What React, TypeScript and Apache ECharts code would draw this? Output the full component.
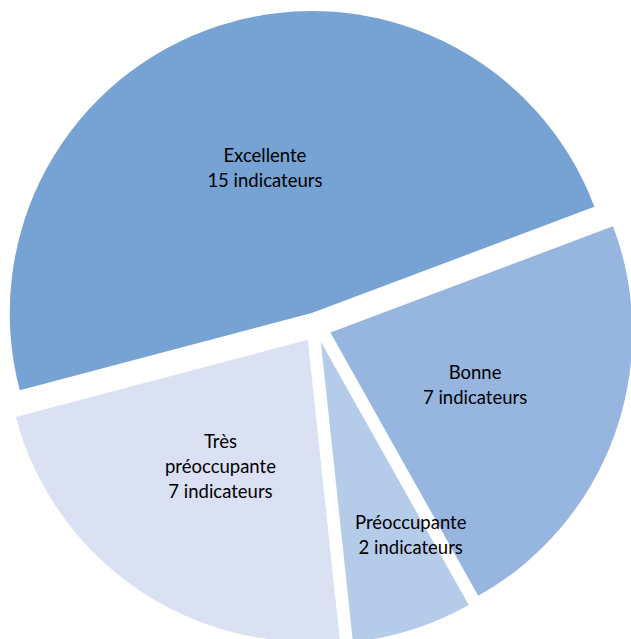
import React, { useEffect, useRef } from "react";
import * as echarts from "echarts";

const categories = ["Excellente", "Bonne", "Préoccupante", "Très\npréoccupante"];
const values = [15, 7, 2, 7];
const colors = ["#77A2D4", "#96B5DF", "#B5CBEA", "#DAE1F3"];
const labelShifts = [
  [0, 1],
  [0, -1],
  [43, 46],
  [0, -1],
];

export default function App() {
  const ref = useRef<HTMLDivElement>(null);
  useEffect(() => {
    if (!ref.current) return;
    const chart = echarts.init(ref.current, null, { renderer: "svg" });
    const data = categories.map((name, i) => ({
      name,
      value: values[i],
      selected: true,
      itemStyle: { color: colors[i] },
      select: { itemStyle: { color: colors[i] } },
    }));
    chart.setOption({
      animation: false,
      backgroundColor: "#ffffff",
      series: [
        {
          type: "pie",
          center: [316.3, 327.4],
          radius: [0, 302],
          startAngle: 194.8,
          clockwise: true,
          selectedMode: "multiple",
          selectedOffset: 15,
          emphasis: { disabled: true },
          labelLine: { show: false },
          label: {
            show: true,
            position: "inside",
            formatter: (p: any) => `${p.name}\n${p.value} indicateurs`,
            fontFamily: "Lato",
            fontSize: 18.5,
            lineHeight: 25,
            color: "#000000",
            align: "center",
          },
          labelLayout: (p: any) => ({
            dx: labelShifts[p.dataIndex][0],
            dy: labelShifts[p.dataIndex][1],
          }),
          data,
        },
      ],
    });
    return () => chart.dispose();
  }, []);
  return (
    <div
      ref={ref}
      style={{ position: "fixed", left: 0, top: 0, width: 631, height: 639 }}
    />
  );
}
